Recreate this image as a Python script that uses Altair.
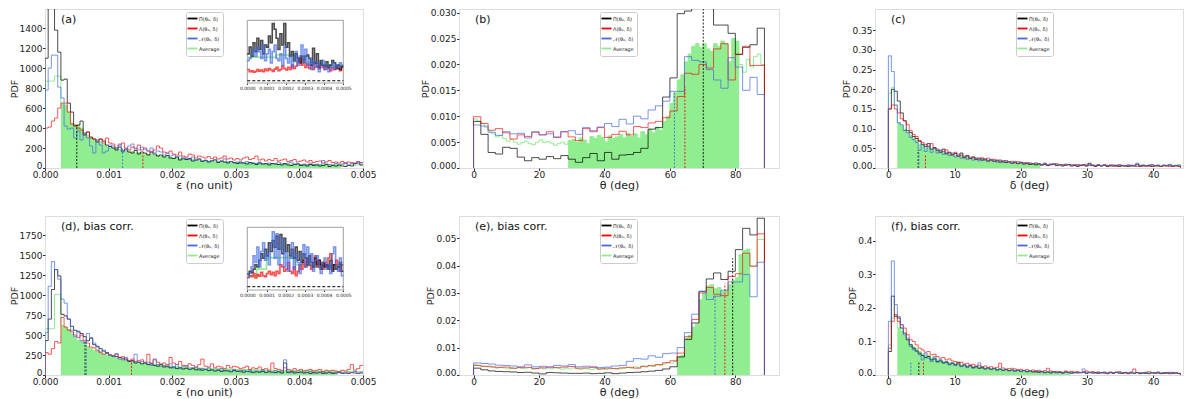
import altair as alt
import pandas as pd

LABELS = ["Π(θ₀, δ)", "Λ(θ₀, δ)", "𝒩(θ₀, δ)", "Average"]
COLORS = ["black", "red", "royalblue", "lightgreen"]

EPS_BIN = 0.00005
THETA_BIN = 2.2225
THETA_BIN_AVG = 1.11125
DELTA_BIN = 0.45
INSET_BIN = 0.00001
INSET_BIN_AVG = 0.00005
PANEL_H = 159

# ---------------- panel (a) ----------------
A_BLACK = [1100, 1900, 1750, 1380, 1160, 880, 890, 650, 560, 420,
           430, 470, 330, 360, 310, 290, 260, 290, 270, 230,
           215, 200, 180, 210, 170, 190, 160, 150, 175, 140,
           160, 150, 130, 160, 140, 120, 130, 110, 125, 100,
           95, 110, 80, 100, 85, 95, 70, 80, 90, 65,
           75, 60, 70, 80, 55, 70, 60, 50, 65, 55,
           45, 60, 50, 40, 55, 45, 35, 50, 40, 45,
           30, 45, 40, 35, 30, 45, 30, 25, 35, 40,
           25, 30, 20, 35, 25, 30, 20, 25, 35, 15,
           25, 20, 30, 20, 15, 25, 20, 45, 50, 30]
A_RED = [400, 410, 470, 500, 600, 650, 650, 560, 440, 430,
         400, 380, 340, 360, 300, 290, 280, 290, 250, 300,
         250, 240, 200, 230, 250, 200, 180, 210, 190, 230,
         180, 200, 170, 160, 180, 220, 200, 160, 150, 170,
         140, 130, 160, 120, 110, 140, 130, 100, 120, 110,
         100, 115, 95, 110, 90, 100, 120, 90, 100, 80,
         95, 80, 100, 110, 85, 95, 120, 80, 90, 70,
         85, 75, 95, 70, 80, 90, 65, 75, 85, 60,
         70, 80, 60, 75, 55, 65, 70, 50, 60, 75,
         55, 60, 50, 65, 45, 60, 55, 50, 65, 55]
A_BLUE = [780, 1000, 1130, 1130, 810, 700, 420, 390, 400, 300,
          370, 280, 350, 300, 220, 150, 270, 230, 150, 170,
          230, 220, 200, 240, 160, 180, 220, 240, 200, 180,
          210, 190, 170, 200, 150, 170, 160, 130, 150, 120,
          130, 110, 120, 90, 100, 85, 110, 75, 90, 70,
          80, 60, 75, 85, 60, 70, 90, 60, 65, 50,
          60, 45, 55, 65, 40, 50, 45, 60, 35, 40,
          50, 40, 45, 60, 40, 35, 50, 60, 40, 45,
          35, 40, 30, 50, 35, 40, 30, 75, 40, 35,
          30, 45, 35, 40, 55, 30, 45, 40, 60, 50]
A_AVG = [870, 870, 870, 920, 920, 640, 630, 560, 450, 430,
         430, 400, 350, 330, 300, 280, 270, 260, 240, 220,
         210, 200, 190, 180, 178, 170, 160, 165, 150, 155,
         145, 140, 135, 140, 125, 130, 120, 115, 112, 105,
         100, 102, 95, 90, 92, 85, 88, 80, 82, 75,
         72, 70, 73, 68, 65, 67, 62, 60, 63, 58,
         55, 57, 54, 52, 50, 53, 48, 50, 46, 45,
         44, 46, 42, 40, 43, 40, 38, 41, 38, 36,
         35, 37, 34, 36, 33, 35, 32, 34, 31, 33,
         30, 32, 30, 33, 29, 31, 31, 29, 30, 29]
A_FILL = [5, 92]
A_MED_X = [0.0005, 0.00122, 0.00154]
A_MED_H = [430, 200, 150]
A_MED_S = [LABELS[0], LABELS[2], LABELS[1]]

A_IN_BLACK = [1200, 1500, 1100, 1700, 1300, 1900, 1400, 1800, 1200, 1600,
              1500, 2000, 1700, 2550, 2300, 1900, 1400, 2100, 1600, 2550,
              1500, 1700, 1100, 1300, 900, 1200, 1000, 800, 1100, 900,
              1100, 1150, 1000, 700, 1450, 800, 1200, 600, 900, 700,
              650, 850, 600, 700, 900, 800, 550, 700, 500, 650]
A_IN_BLUE = [900, 1000, 1200, 1400, 1100, 1500, 1300, 1000, 1600, 900,
             1200, 1400, 800, 1300, 1600, 1000, 900, 1200, 700, 1500,
             1000, 800, 1100, 600, 900, 1300, 700, 1100, 1600, 800,
             1400, 700, 1000, 500, 900, 600, 800, 400, 700, 900,
             500, 700, 400, 600, 800, 500, 700, 600, 800, 700]
A_IN_RED = [500, 400, 450, 380, 420, 500, 430, 480, 400, 520,
            450, 550, 480, 420, 520, 600, 450, 500, 650, 550,
            480, 600, 500, 700, 550, 650, 900, 1000, 700, 800,
            600, 750, 550, 700, 500, 800, 650, 550, 700, 600,
            500, 650, 550, 450, 600, 500, 650, 550, 450, 600]
A_IN_AVG = [1050, 1050, 1050, 1150, 1150, 850, 830, 780, 700, 680]
A_IN_YDOM = [-100, 2700]

# ---------------- panel (d) ----------------
D_BLACK = [430, 700, 1070, 1320, 1240, 760, 740, 700, 610, 560,
           540, 520, 480, 430, 460, 380, 360, 330, 300, 280,
           250, 240, 230, 220, 210, 190, 170, 180, 150, 160,
           140, 150, 130, 140, 120, 110, 130, 100, 110, 90,
           100, 80, 90, 75, 85, 70, 80, 65, 75, 60,
           70, 55, 65, 50, 60, 45, 55, 50, 40, 55,
           45, 50, 35, 45, 40, 30, 40, 35, 45, 30,
           40, 35, 30, 40, 25, 150, 30, 40, 25, 30,
           35, 25, 30, 20, 30, 25, 35, 20, 25, 30,
           20, 25, 30, 20, 25, 20, 30, 25, 20, 25]
D_RED = [280, 260, 330, 420, 400, 720, 600, 560, 540, 500,
         470, 500, 430, 400, 350, 340, 310, 280, 260, 270,
         250, 240, 260, 220, 230, 210, 180, 200, 170, 180,
         190, 160, 260, 150, 200, 160, 140, 150, 130, 220,
         150, 130, 170, 120, 110, 140, 120, 100, 130, 200,
         110, 100, 140, 90, 110, 100, 80, 120, 90, 110,
         100, 80, 90, 110, 70, 90, 80, 100, 70, 80,
         60, 150, 80, 70, 60, 90, 70, 60, 80, 60,
         70, 50, 60, 70, 50, 60, 70, 40, 60, 50,
         60, 50, 40, 60, 50, 70, 130, 60, 80, 120]
D_BLUE = [530, 1110, 1420, 1320, 1200, 950, 900, 700, 560, 480,
          550, 430, 400, 520, 470, 400, 350, 290, 310, 270,
          250, 230, 270, 200, 190, 220, 180, 170, 260, 160,
          170, 150, 160, 120, 190, 130, 110, 120, 100, 140,
          90, 130, 80, 110, 120, 70, 90, 100, 60, 80,
          70, 90, 60, 50, 70, 80, 50, 60, 45, 70,
          50, 40, 60, 45, 55, 35, 50, 40, 60, 35,
          45, 30, 55, 35, 40, 190, 40, 30, 45, 35,
          40, 30, 35, 45, 25, 35, 30, 40, 25, 35,
          30, 25, 40, 30, 25, 35, 30, 45, 25, 35]
D_AVG = [580, 580, 580, 1010, 1010, 620, 600, 570, 520, 470,
         430, 420, 400, 360, 330, 310, 300, 270, 260, 250,
         240, 230, 212, 200, 192, 180, 172, 165, 158, 150,
         150, 145, 140, 135, 130, 126, 122, 118, 114, 110,
         105, 102, 99, 97, 95, 93, 91, 89, 88, 86,
         85, 83, 82, 80, 79, 78, 76, 75, 74, 72,
         71, 70, 69, 68, 67, 66, 65, 64, 63, 62,
         61, 60, 60, 59, 58, 58, 57, 56, 56, 55,
         55, 54, 53, 53, 52, 52, 51, 50, 50, 49,
         49, 48, 48, 47, 47, 46, 46, 45, 45, 44]
D_FILL = [5, 91]
D_MED_X = [0.00063, 0.00065, 0.00136]
D_MED_H = [440, 420, 190]
D_MED_S = [LABELS[0], LABELS[2], LABELS[1]]

D_IN_BLACK = [570, 700, 650, 800, 1000, 900, 1200, 1500, 1300, 1700,
              1400, 2000, 1600, 2100, 1800, 2300, 1700, 2370, 1500, 2200,
              1600, 1900, 1400, 1700, 1300, 1800, 1200, 1600, 1100, 1500,
              1300, 1000, 1400, 1100, 900, 1300, 1000, 1200, 800, 1100,
              900, 1000, 800, 1200, 700, 1000, 800, 900, 1100, 700]
D_IN_BLUE = [420, 600, 900, 1400, 1100, 1800, 900, 1600, 2000, 1200,
             1500, 1000, 2000, 2500, 1300, 2400, 1000, 1700, 2200, 900,
             1600, 700, 1300, 2000, 800, 1500, 1100, 600, 1400, 1900,
             900, 1800, 1000, 1500, 700, 1200, 1400, 900, 600, 1100,
             1300, 800, 1000, 600, 1500, 1800, 900, 700, 1300, 500]
D_IN_RED = [420, 500, 450, 600, 400, 550, 480, 650, 500, 450,
            600, 700, 550, 650, 500, 700, 600, 1000, 900, 700,
            800, 1100, 700, 600, 900, 500, 700, 1000, 800, 1200,
            900, 1300, 1000, 800, 1100, 1400, 900, 1200, 1000, 800,
            1100, 900, 1300, 1500, 800, 1000, 1200, 900, 700, 1000]
D_IN_AVG = [500, 800, 1320, 1320, 1320, 1000, 950, 900, 950, 1000]
D_IN_YDOM = [-150, 2700]

# ---------------- panel (b) ----------------
B_BLACK = [0.0090, 0.0065, 0.0030, 0.0027, 0.0040, 0.0038, 0.0021, 0.0014, 0.0020, 0.0017,
           0.0022, 0.0018, 0.0024, 0.0017, 0.0011, 0.0020, 0.0028, 0.0014, 0.0030, 0.0017,
           0.0025, 0.0026, 0.0030, 0.0038, 0.0075, 0.0078, 0.0137, 0.0174, 0.0298, 0.0303,
           0.0320, 0.0340, 0.0320, 0.0276, 0.0276, 0.0260, 0.0219, 0.0233, 0.0238, 0.0270]
B_RED = [0.0099, 0.0086, 0.0073, 0.0076, 0.0068, 0.0056, 0.0064, 0.0061, 0.0069, 0.0064,
         0.0070, 0.0059, 0.0070, 0.0060, 0.0053, 0.0076, 0.0070, 0.0078, 0.0059, 0.0065,
         0.0071, 0.0064, 0.0080, 0.0078, 0.0087, 0.0090, 0.0097, 0.0110, 0.0138, 0.0183,
         0.0181, 0.0200, 0.0193, 0.0230, 0.0240, 0.0170, 0.0220, 0.0235, 0.0198, 0.0198]
B_BLUE = [0.0083, 0.0081, 0.0069, 0.0063, 0.0070, 0.0066, 0.0067, 0.0058, 0.0070, 0.0064,
          0.0066, 0.0060, 0.0070, 0.0072, 0.0065, 0.0078, 0.0072, 0.0079, 0.0086, 0.0080,
          0.0094, 0.0085, 0.0100, 0.0095, 0.0112, 0.0120, 0.0129, 0.0148, 0.0148, 0.0215,
          0.0208, 0.0205, 0.0190, 0.0170, 0.0154, 0.0213, 0.0195, 0.0150, 0.0175, 0.0142]
B_AVG = [0.0095, 0.0090, 0.0086, 0.0078, 0.0072, 0.0066, 0.0060, 0.0063, 0.0057, 0.0052,
         0.0055, 0.0050, 0.0046, 0.0049, 0.0052, 0.0047, 0.0045, 0.0050, 0.0054, 0.0049,
         0.0051, 0.0048, 0.0044, 0.0047, 0.0050, 0.0046,
         0.0053, 0.0055, 0.0050, 0.0058, 0.0054, 0.0047, 0.0061, 0.0057, 0.0063, 0.0059,
         0.0050, 0.0062, 0.0057, 0.0060, 0.0065, 0.0058, 0.0067, 0.0061, 0.0066, 0.0058,
         0.0070, 0.0064, 0.0075, 0.0068, 0.0079, 0.0073, 0.0090, 0.0100, 0.0125, 0.0145,
         0.0170, 0.0180, 0.0205, 0.0220, 0.0235, 0.0240, 0.0232, 0.0240, 0.0230, 0.0225,
         0.0240, 0.0235, 0.0245, 0.0240, 0.0205, 0.0250, 0.0245,
         0.0200, 0.0185, 0.0210, 0.0195, 0.0215, 0.0220, 0.0200]
B_FILL = [26, 72]
B_MED_X = [61.4, 64.6, 70.2]
B_MED_H = [0.0148, 0.0157, 0.0307]
B_MED_S = [LABELS[2], LABELS[1], LABELS[0]]

# ---------------- panel (e) ----------------
E_BLACK = [0.0025, 0.0019, 0.0015, 0.0013, 0.0012, 0.0011, 0.0009, 0.0010, 0.0007, 0.0004,
           0.0009, 0.0008, 0.0007, 0.0006, 0.0006, 0.0007, 0.0005, 0.0006, 0.0008, 0.0005,
           0.0007, 0.0009, 0.0010, 0.0012, 0.0014, 0.0017, 0.0022, 0.0030, 0.0066, 0.0130,
           0.0190, 0.0306, 0.0351, 0.0373, 0.0349, 0.0379, 0.0458, 0.0536, 0.0512, 0.0573]
E_RED = [0.0035, 0.0032, 0.0030, 0.0028, 0.0029, 0.0025, 0.0027, 0.0028, 0.0024, 0.0026,
         0.0030, 0.0027, 0.0029, 0.0031, 0.0025, 0.0026, 0.0028, 0.0022, 0.0025, 0.0024,
         0.0026, 0.0028, 0.0025, 0.0032, 0.0034, 0.0038, 0.0045, 0.0052, 0.0080, 0.0140,
         0.0203, 0.0300, 0.0320, 0.0295, 0.0290, 0.0360, 0.0370, 0.0445, 0.0397, 0.0516]
E_BLUE = [0.0044, 0.0042, 0.0040, 0.0036, 0.0035, 0.0033, 0.0030, 0.0037, 0.0030, 0.0032,
          0.0028, 0.0035, 0.0033, 0.0038, 0.0030, 0.0032, 0.0030, 0.0027, 0.0029, 0.0033,
          0.0035, 0.0050, 0.0060, 0.0058, 0.0070, 0.0065, 0.0078, 0.0080, 0.0100, 0.0155,
          0.0222, 0.0305, 0.0276, 0.0288, 0.0310, 0.0340, 0.0340, 0.0367, 0.0286, 0.0412]
E_AVG = [0.0038, 0.0035, 0.0032, 0.0030, 0.0033, 0.0027, 0.0025, 0.0029, 0.0026, 0.0022,
         0.0026, 0.0024, 0.0028, 0.0023, 0.0025, 0.0027, 0.0021, 0.0024, 0.0026, 0.0022,
         0.0025, 0.0023, 0.0027, 0.0024, 0.0021, 0.0025, 0.0022, 0.0026, 0.0023, 0.0020,
         0.0024, 0.0022, 0.0019, 0.0023, 0.0021, 0.0025, 0.0020, 0.0022, 0.0024, 0.0021,
         0.0023, 0.0026, 0.0028, 0.0025, 0.0030, 0.0027, 0.0032, 0.0029, 0.0034, 0.0031,
         0.0037, 0.0035, 0.0040, 0.0045, 0.0043, 0.0050,
         0.0068, 0.0072, 0.0135, 0.0145, 0.0175, 0.0185, 0.0275, 0.0300, 0.0325, 0.0330,
         0.0315, 0.0320, 0.0306, 0.0310, 0.0330, 0.0345, 0.0355, 0.0440, 0.0455, 0.0460,
         0.0400, 0.0400, 0.0495, 0.0495]
E_FILL = [56, 75]
E_MED_X = [73.8, 76.8, 79.2]
E_MED_H = [0.029, 0.0335, 0.0427]
E_MED_S = [LABELS[2], LABELS[1], LABELS[0]]

# ---------------- panel (c) ----------------
C_BLACK = [0.150, 0.200, 0.195, 0.170, 0.140, 0.120, 0.095, 0.090, 0.080, 0.075,
           0.068, 0.060, 0.055, 0.062, 0.048, 0.052, 0.045, 0.040, 0.048, 0.036,
           0.040, 0.033, 0.037, 0.030, 0.038, 0.026, 0.032, 0.024, 0.028, 0.022,
           0.025, 0.020, 0.023, 0.018, 0.021, 0.017, 0.020, 0.015, 0.018, 0.014,
           0.016, 0.012, 0.015, 0.011, 0.014, 0.010, 0.012, 0.009, 0.011, 0.008,
           0.010, 0.007, 0.009, 0.006, 0.008, 0.010, 0.006, 0.008, 0.005, 0.007,
           0.009, 0.005, 0.007, 0.004, 0.006, 0.008, 0.005, 0.012, 0.006, 0.004,
           0.007, 0.005, 0.008, 0.004, 0.006, 0.005, 0.007, 0.004, 0.006, 0.005,
           0.004, 0.007, 0.005, 0.010, 0.004, 0.006, 0.005, 0.007, 0.004, 0.006,
           0.005, 0.004, 0.007, 0.005, 0.008, 0.004, 0.006, 0.005]
C_RED = [0.150, 0.160, 0.150, 0.140, 0.125, 0.120, 0.110, 0.095, 0.085, 0.080,
         0.070, 0.065, 0.060, 0.055, 0.062, 0.050, 0.048, 0.045, 0.042, 0.046,
         0.038, 0.035, 0.040, 0.030, 0.033, 0.028, 0.030, 0.025, 0.027, 0.023,
         0.022, 0.026, 0.021, 0.025, 0.019, 0.022, 0.017, 0.020, 0.016, 0.019,
         0.015, 0.017, 0.013, 0.016, 0.012, 0.014, 0.011, 0.013, 0.010, 0.012,
         0.011, 0.009, 0.012, 0.008, 0.010, 0.009, 0.011, 0.008, 0.009, 0.007,
         0.009, 0.008, 0.006, 0.009, 0.007, 0.008, 0.006, 0.008, 0.007, 0.005,
         0.008, 0.006, 0.007, 0.005, 0.008, 0.006, 0.004, 0.007, 0.005, 0.006,
         0.007, 0.005, 0.006, 0.004, 0.007, 0.005, 0.006, 0.004, 0.008, 0.005,
         0.006, 0.004, 0.005, 0.007, 0.004, 0.006, 0.005, 0.004]
C_BLUE = [0.285, 0.245, 0.160, 0.115, 0.110, 0.095, 0.090, 0.078, 0.072, 0.065,
          0.045, 0.060, 0.042, 0.055, 0.040, 0.050, 0.038, 0.045, 0.035, 0.040,
          0.032, 0.038, 0.028, 0.035, 0.025, 0.030, 0.022, 0.028, 0.020, 0.026,
          0.018, 0.024, 0.020, 0.016, 0.022, 0.018, 0.015, 0.020, 0.014, 0.018,
          0.016, 0.013, 0.017, 0.012, 0.015, 0.011, 0.014, 0.012, 0.010, 0.013,
          0.011, 0.009, 0.012, 0.008, 0.010, 0.011, 0.008, 0.009, 0.007, 0.010,
          0.008, 0.007, 0.009, 0.006, 0.008, 0.007, 0.010, 0.006, 0.008, 0.007,
          0.009, 0.006, 0.008, 0.007, 0.005, 0.008, 0.006, 0.009, 0.007, 0.006,
          0.008, 0.005, 0.007, 0.012, 0.006, 0.008, 0.005, 0.007, 0.009, 0.006,
          0.008, 0.005, 0.007, 0.006, 0.009, 0.005, 0.007, 0.008]
C_AVG = [0.190, 0.205, 0.160, 0.115, 0.108, 0.098, 0.090, 0.082, 0.076, 0.070,
         0.060, 0.058, 0.053, 0.055, 0.047, 0.049, 0.043, 0.042, 0.040, 0.038,
         0.035, 0.034, 0.032, 0.030, 0.031, 0.027, 0.028, 0.025, 0.026, 0.023,
         0.022, 0.023, 0.021, 0.020, 0.020, 0.018, 0.018, 0.017, 0.016, 0.016,
         0.015, 0.014, 0.015, 0.013, 0.013, 0.012, 0.012, 0.011, 0.011, 0.010,
         0.010, 0.009, 0.010, 0.008, 0.009, 0.009, 0.008, 0.008, 0.007, 0.008,
         0.008, 0.007, 0.007, 0.006, 0.007, 0.007, 0.006, 0.008, 0.007, 0.006,
         0.007, 0.006, 0.007, 0.005, 0.006, 0.006, 0.005, 0.006, 0.006, 0.005,
         0.006, 0.006, 0.005, 0.008, 0.005, 0.006, 0.005, 0.006, 0.006, 0.005,
         0.006, 0.004, 0.006, 0.006, 0.007, 0.005, 0.006, 0.006]
C_FILL = [3, 50]
C_MED_X = [4.5, 4.6, 5.6]
C_MED_H = [0.046, 0.040, 0.034]
C_MED_S = [LABELS[0], LABELS[2], LABELS[1]]

# ---------------- panel (f) ----------------
F_BLACK = [0.070, 0.235, 0.175, 0.170, 0.140, 0.125, 0.105, 0.090, 0.080, 0.072,
           0.065, 0.058, 0.052, 0.055, 0.045, 0.048, 0.040, 0.042, 0.036, 0.038,
           0.032, 0.035, 0.030, 0.038, 0.026, 0.030, 0.024, 0.028, 0.022, 0.025,
           0.020, 0.023, 0.018, 0.021, 0.017, 0.020, 0.015, 0.018, 0.014, 0.016,
           0.013, 0.015, 0.012, 0.014, 0.011, 0.013, 0.010, 0.012, 0.009, 0.011,
           0.008, 0.010, 0.007, 0.009, 0.006, 0.010, 0.007, 0.008, 0.006, 0.009,
           0.007, 0.005, 0.008, 0.006, 0.007, 0.009, 0.005, 0.007, 0.006, 0.008,
           0.005, 0.007, 0.006, 0.004, 0.007, 0.005, 0.008, 0.006, 0.005, 0.007,
           0.004, 0.006, 0.005, 0.007, 0.004, 0.006, 0.005, 0.004, 0.007, 0.005,
           0.006, 0.004, 0.005, 0.007, 0.004, 0.005, 0.006, 0.004]
F_RED = [0.080, 0.160, 0.180, 0.160, 0.150, 0.140, 0.120, 0.105, 0.100, 0.090,
         0.080, 0.075, 0.068, 0.070, 0.060, 0.062, 0.055, 0.050, 0.052, 0.045,
         0.048, 0.042, 0.040, 0.036, 0.038, 0.032, 0.035, 0.030, 0.032, 0.027,
         0.029, 0.025, 0.027, 0.022, 0.025, 0.020, 0.023, 0.035, 0.021, 0.018,
         0.019, 0.020, 0.018, 0.015, 0.017, 0.014, 0.016, 0.013, 0.015, 0.012,
         0.014, 0.011, 0.013, 0.020, 0.012, 0.009, 0.011, 0.010, 0.008, 0.012,
         0.009, 0.011, 0.008, 0.010, 0.007, 0.009, 0.012, 0.008, 0.010, 0.007,
         0.009, 0.007, 0.008, 0.006, 0.009, 0.007, 0.008, 0.010, 0.006, 0.008,
         0.007, 0.009, 0.018, 0.008, 0.007, 0.006, 0.008, 0.010, 0.006, 0.007,
         0.008, 0.006, 0.007, 0.005, 0.008, 0.006, 0.007, 0.005]
F_BLUE = [0.160, 0.340, 0.210, 0.175, 0.150, 0.120, 0.110, 0.085, 0.075, 0.070,
          0.060, 0.045, 0.065, 0.050, 0.040, 0.055, 0.038, 0.045, 0.035, 0.040,
          0.030, 0.036, 0.028, 0.032, 0.025, 0.030, 0.022, 0.027, 0.020, 0.024,
          0.036, 0.020, 0.018, 0.022, 0.016, 0.019, 0.014, 0.017, 0.013, 0.016,
          0.012, 0.015, 0.011, 0.014, 0.010, 0.013, 0.009, 0.012, 0.010, 0.008,
          0.011, 0.009, 0.007, 0.010, 0.008, 0.009, 0.007, 0.010, 0.006, 0.008,
          0.007, 0.009, 0.006, 0.008, 0.007, 0.018, 0.006, 0.008, 0.007, 0.005,
          0.008, 0.006, 0.009, 0.005, 0.007, 0.006, 0.008, 0.005, 0.007, 0.006,
          0.005, 0.008, 0.006, 0.007, 0.005, 0.006, 0.008, 0.005, 0.007, 0.006,
          0.009, 0.005, 0.007, 0.006, 0.005, 0.008, 0.006, 0.005]
F_AVG = [0.090, 0.170, 0.180, 0.140, 0.130, 0.118, 0.105, 0.092, 0.084, 0.078,
         0.070, 0.062, 0.060, 0.058, 0.050, 0.052, 0.045, 0.046, 0.041, 0.040,
         0.036, 0.037, 0.033, 0.035, 0.029, 0.030, 0.027, 0.028, 0.025, 0.025,
         0.024, 0.022, 0.021, 0.021, 0.019, 0.020, 0.018, 0.018, 0.016, 0.017,
         0.015, 0.015, 0.014, 0.014, 0.013, 0.013, 0.012, 0.012, 0.011, 0.011,
         0.011, 0.010, 0.010, 0.009, 0.009, 0.009, 0.008, 0.009, 0.007, 0.008,
         0.008, 0.008, 0.007, 0.008, 0.007, 0.008, 0.007, 0.008, 0.007, 0.007,
         0.007, 0.007, 0.007, 0.005, 0.007, 0.006, 0.008, 0.007, 0.006, 0.007,
         0.005, 0.007, 0.006, 0.007, 0.005, 0.006, 0.006, 0.006, 0.007, 0.006,
         0.007, 0.005, 0.006, 0.006, 0.006, 0.006, 0.006, 0.005]
F_FILL = [3, 60]
F_MED_X = [3.4, 4.6, 5.3]
F_MED_H = [0.038, 0.040, 0.040]
F_MED_S = [LABELS[2], LABELS[0], LABELS[1]]

# ---------------- helpers ----------------
CSCALE = alt.Scale(domain=LABELS, range=COLORS)
LINE_OPACITY = {LABELS[0]: 0.7, LABELS[1]: 0.65, LABELS[2]: 0.7, LABELS[3]: 1.0}


def step_df(vals, width, label, close_left=True, close_right=True):
    xs, ys = [], []
    if close_left:
        xs.append(0.0)
        ys.append(0.0)
    for i, v in enumerate(vals):
        xs.append(i * width)
        ys.append(v)
    end = len(vals) * width
    xs.append(end)
    ys.append(vals[-1])
    if close_right:
        xs.append(end)
        ys.append(0.0)
    return pd.DataFrame({"x": xs, "y": ys, "o": list(range(len(xs))), "s": label})


def fill_df(vals, width, lo, hi):
    xs = [i * width for i in range(lo, hi + 1)] + [(hi + 1) * width]
    ys = list(vals[lo:hi + 1]) + [vals[hi]]
    return pd.DataFrame({"x": xs, "y": ys})


def legend():
    return alt.Legend(orient="none", legendX=141, legendY=3, title=None,
                      labelFontSize=5, labelColor="#222", symbolType="M-2,0H2",
                      symbolSize=25, symbolStrokeWidth=1.8, symbolOpacity=1,
                      rowPadding=1, padding=3, strokeColor="#cccccc",
                      fillColor="white", cornerRadius=2, labelOffset=3, labelLimit=80)


def x_axis(values, fmt, title):
    return alt.Axis(values=values, format=fmt, title=title, grid=False, domain=False,
                    tickSize=2.5, tickColor="#333", labelFontSize=9, labelColor="#222",
                    labelPadding=0, labelFlush=False, labelOverlap=False,
                    titleFontSize=11, titleFontWeight="normal", titleColor="#222",
                    titlePadding=0)


def y_axis(values, fmt):
    return alt.Axis(values=values, format=fmt, title="PDF", grid=False, domain=False,
                    tickSize=2.5, tickColor="#333", labelFontSize=9, labelColor="#222",
                    labelPadding=0.5, labelFlush=False, labelOverlap=False,
                    labelOffset={"condition": {"test": "datum.value === 0", "value": -2.5},
                                 "value": 0},
                    titleFontSize=9.5, titleFontWeight="normal", titleColor="#222",
                    titlePadding=0)


def inset(black, red, blue, avg, ydom, xr):
    xs = alt.Scale(domain=[0, 0.0005], range=xr, nice=False, zero=False)
    ys = alt.Scale(domain=ydom, range=[74, 11.3], nice=False, zero=False)
    iax = alt.Axis(orient="bottom", offset=74 - PANEL_H,
                   values=[0, 0.0001, 0.0002, 0.0003, 0.0004, 0.0005], format=".4f",
                   title=None, grid=False, domain=False, tickSize=1.5, tickColor="#333",
                   labelFontSize=4.5, labelColor="#222", labelPadding=0.5,
                   labelFlush=False, labelOverlap=False)
    frame = pd.DataFrame({"x0": [0.0], "x1": [0.0005], "y0": [float(ydom[0])],
                          "y1": [float(ydom[1])], "z": [0.0]})
    lay = [
        alt.Chart(frame).mark_rect(fillOpacity=0, stroke="#888888", strokeWidth=0.8).encode(
            x=alt.X("x0:Q", scale=xs, axis=iax), x2="x1:Q",
            y=alt.Y("y0:Q", scale=ys, axis=None), y2="y1:Q"),
        alt.Chart(frame).mark_rule(color="black", strokeDash=[3, 2], strokeWidth=1).encode(
            x=alt.X("x0:Q", scale=xs, axis=iax), x2="x1:Q",
            y=alt.Y("z:Q", scale=ys, axis=None)),
    ]
    for vals, w, lab in [(avg, INSET_BIN_AVG, LABELS[3]), (red, INSET_BIN, LABELS[1]),
                         (black, INSET_BIN, LABELS[0]), (blue, INSET_BIN, LABELS[2])]:
        df = step_df(vals, w, lab, False, False)
        lay.append(alt.Chart(df).mark_line(interpolate="step-after", strokeWidth=1.6,
                                           strokeOpacity=0.7 if lab != LABELS[3] else 1).encode(
            x=alt.X("x:Q", scale=xs, axis=iax),
            y=alt.Y("y:Q", scale=ys, axis=None),
            order=alt.Order("o:Q"),
            stroke=alt.Stroke("s:N", scale=CSCALE, legend=None)))
    return alt.layer(*lay)


def panel(P):
    xs = alt.Scale(domain=P["xdom"], nice=False, zero=False)
    ys = alt.Scale(domain=P["ydom"], nice=False, zero=False)
    xax = x_axis(P["xticks"], P["xfmt"], P["xtitle"])
    yax = y_axis(P["yticks"], P["yfmt"])
    X = alt.X("x:Q", scale=xs, axis=xax)
    Y = alt.Y("y:Q", scale=ys, axis=yax, stack=None)
    lo, hi = P["fill"]
    layers = []
    avg_df = step_df(P["avg"], P["wavg"], LABELS[3], True, P["close_right"])
    layers.append(alt.Chart(avg_df).mark_line(
        interpolate="step-after", strokeWidth=1, clip=True).encode(
        x=X, y=Y, order=alt.Order("o:Q"),
        color=alt.Color("s:N", scale=CSCALE, legend=legend())))
    layers.append(alt.Chart(fill_df(P["avg"], P["wavg"], lo, hi)).mark_area(
        interpolate="step-after", color="lightgreen", opacity=1, clip=True).encode(
        x=X, y=Y))
    for vals, w, lab in [(P["black"], P["w"], LABELS[0]), (P["red"], P["w"], LABELS[1]),
                         (P["blue"], P["w"], LABELS[2])]:
        df = step_df(vals, w, lab, True, P["close_right"])
        layers.append(alt.Chart(df).mark_line(
            interpolate="step-after", strokeWidth=1, strokeOpacity=LINE_OPACITY[lab],
            clip=True).encode(
            x=X, y=Y, order=alt.Order("o:Q"),
            color=alt.Color("s:N", scale=CSCALE, legend=legend())))
    med = pd.DataFrame({"x": P["med_x"], "y0": [0.0] * len(P["med_x"]),
                        "y1": P["med_h"], "s": P["med_s"]})
    layers.append(alt.Chart(med).mark_rule(strokeDash=[2, 1.5], strokeWidth=1,
                                           strokeOpacity=0.85, clip=True).encode(
        x=X, y=alt.Y("y0:Q", scale=ys, axis=yax), y2="y1:Q",
        stroke=alt.Stroke("s:N", scale=CSCALE, legend=None)))
    layers.append(alt.Chart(pd.DataFrame({"t": [P["label"]]})).mark_text(
        align="left", baseline="middle", fontSize=11, color="#111").encode(
        text="t:N", x=alt.value(16), y=alt.value(11)))
    main = alt.layer(*layers)
    if P.get("inset") is not None:
        ch = alt.layer(main, inset(*P["inset"])).resolve_scale(x="independent", y="independent")
    else:
        ch = main
    return ch.properties(width=P["width"], height=PANEL_H)


EPS_TICKS = [0, 0.001, 0.002, 0.003, 0.004, 0.005]
THETA_TICKS = [0, 20, 40, 60, 80]
DELTA_TICKS = [0, 10, 20, 30, 40]
INSET_XR = [202.3, 298.3]

PA = dict(black=A_BLACK, red=A_RED, blue=A_BLUE, avg=A_AVG, w=EPS_BIN, wavg=EPS_BIN,
          fill=A_FILL, med_x=A_MED_X, med_h=A_MED_H, med_s=A_MED_S, close_right=False,
          xdom=[0, 0.005], ydom=[0, 1592], xticks=EPS_TICKS, xfmt=".3f", xtitle="ε (no unit)",
          yticks=[0, 200, 400, 600, 800, 1000, 1200, 1400], yfmt="d", label="(a)", width=318,
          inset=(A_IN_BLACK, A_IN_RED, A_IN_BLUE, A_IN_AVG, A_IN_YDOM, INSET_XR))
PB = dict(black=B_BLACK, red=B_RED, blue=B_BLUE, avg=B_AVG, w=THETA_BIN, wavg=THETA_BIN_AVG,
          fill=B_FILL, med_x=B_MED_X, med_h=B_MED_H, med_s=B_MED_S, close_right=True,
          xdom=[-4.45, 93.35], ydom=[0, 0.0307], xticks=THETA_TICKS, xfmt="d", xtitle="θ (deg)",
          yticks=[0, 0.005, 0.01, 0.015, 0.02, 0.025, 0.03], yfmt=".3f", label="(b)", width=320)
PC = dict(black=C_BLACK, red=C_RED, blue=C_BLUE, avg=C_AVG, w=DELTA_BIN, wavg=DELTA_BIN,
          fill=C_FILL, med_x=C_MED_X, med_h=C_MED_H, med_s=C_MED_S, close_right=True,
          xdom=[-2.02, 44.48], ydom=[0, 0.404], xticks=DELTA_TICKS, xfmt="d", xtitle="δ (deg)",
          yticks=[0, 0.05, 0.1, 0.15, 0.2, 0.25, 0.3, 0.35], yfmt=".2f", label="(c)", width=308)
PD = dict(black=D_BLACK, red=D_RED, blue=D_BLUE, avg=D_AVG, w=EPS_BIN, wavg=EPS_BIN,
          fill=D_FILL, med_x=D_MED_X, med_h=D_MED_H, med_s=D_MED_S, close_right=False,
          xdom=[0, 0.005], ydom=[0, 1991], xticks=EPS_TICKS, xfmt=".3f", xtitle="ε (no unit)",
          yticks=[0, 250, 500, 750, 1000, 1250, 1500, 1750], yfmt="d", label="(d), bias corr.",
          width=318, inset=(D_IN_BLACK, D_IN_RED, D_IN_BLUE, D_IN_AVG, D_IN_YDOM, INSET_XR))
PE = dict(black=E_BLACK, red=E_RED, blue=E_BLUE, avg=E_AVG, w=THETA_BIN, wavg=THETA_BIN_AVG,
          fill=E_FILL, med_x=E_MED_X, med_h=E_MED_H, med_s=E_MED_S, close_right=True,
          xdom=[-4.45, 93.35], ydom=[0, 0.0581], xticks=THETA_TICKS, xfmt="d", xtitle="θ (deg)",
          yticks=[0, 0.01, 0.02, 0.03, 0.04, 0.05], yfmt=".2f", label="(e), bias corr.", width=320)
PF = dict(black=F_BLACK, red=F_RED, blue=F_BLUE, avg=F_AVG, w=DELTA_BIN, wavg=DELTA_BIN,
          fill=F_FILL, med_x=F_MED_X, med_h=F_MED_H, med_s=F_MED_S, close_right=True,
          xdom=[-2.02, 44.48], ydom=[0, 0.474], xticks=DELTA_TICKS, xfmt="d", xtitle="δ (deg)",
          yticks=[0, 0.1, 0.2, 0.3, 0.4], yfmt=".1f", label="(f), bias corr.", width=308)

chart = alt.concat(
    panel(PA), panel(PB), panel(PC), panel(PD), panel(PE), panel(PF),
    columns=3, spacing={"row": 48, "column": 96}, bounds="flush", padding=0,
).resolve_scale(color="independent").configure_view(
    stroke="#777777", strokeWidth=1
).configure(font="DejaVu Sans")

chart.save("out.html", embed_options={"renderer": "svg", "actions": False})
